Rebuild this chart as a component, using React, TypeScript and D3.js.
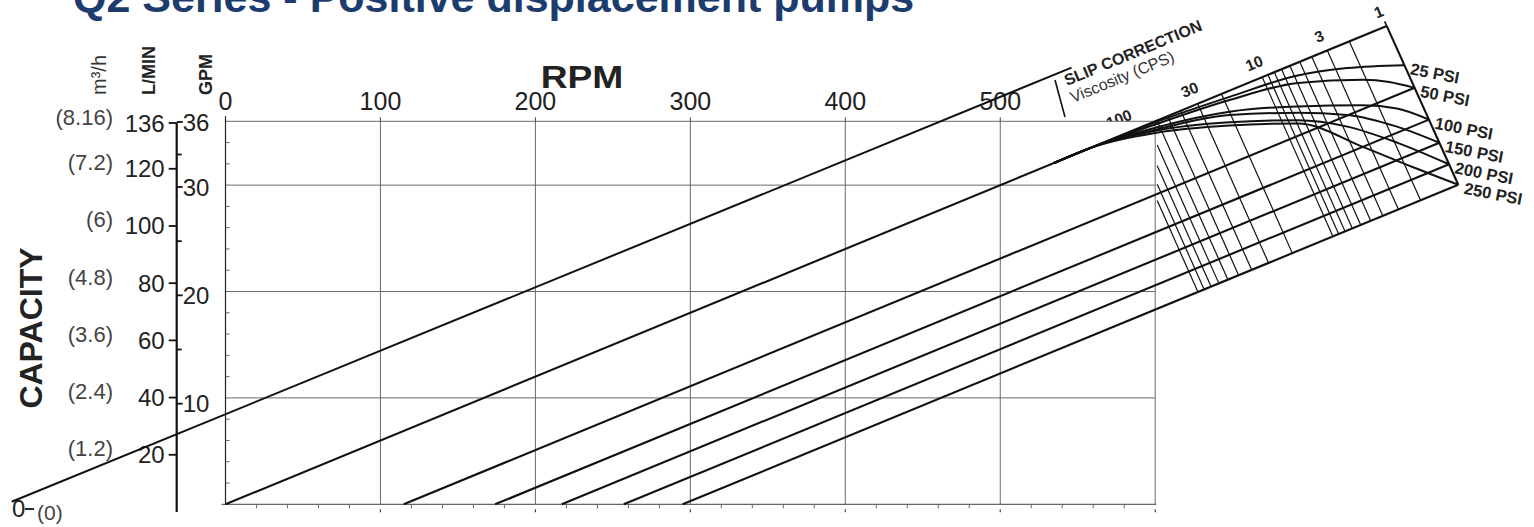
import React from "react";
import * as d3 from "d3";

const WIDTH = 1534;
const HEIGHT = 527;

// ---- axis data ----
const rpmLabels = [0, 100, 200, 300, 400, 500];
const rpmGridLines = [100, 200, 300, 400, 500, 600];
const rpmMinorTicks = [20, 40, 60, 80, 120, 140, 160, 180, 220, 240, 260, 280, 320, 340, 360, 380, 420, 440, 460, 480, 520, 540, 560, 580];
const gpmGridLines = [10, 20, 30, 36];
const gpmMinorTicks = [2, 4, 6, 8, 12, 14, 16, 18, 22, 24, 26, 28, 32, 34];
const lpmTicks = [20, 40, 60, 80, 100, 120, 136];
const m3hLabels = ["(1.2)", "(2.4)", "(3.6)", "(4.8)", "(6)", "(7.2)", "(8.16)"];
const gpmAxisTicks = [10, 20, 30, 36];
const gpmAxisMinor = [15, 25, 33];

// ---- capacity lines (GPM = gpmPerRev * (RPM - zeroFlowRpm)) ----
const gpmPerRev = 0.06;
const lineZeroFlowRpm = [0, 115, 174, 217, 257, 295];
const guideZeroFlowRpm = -138;
const guideEndRpm = 546;

// ---- slip correction curves ----
const pressureLabels = ["25 PSI", "50 PSI", "100 PSI", "150 PSI", "200 PSI", "250 PSI"];
const curveEndZeroFlowRpm = [73, 115, 174, 217, 257, 295];
const curveStart: [number, number][] = [[534.7, 32.08], [560, 33.6]];
const curvePoints: [number, number][][] = [
  [[600, 35.9], [648, 38.3], [692, 40.3], [724, 41.0]],
  [[600, 35.7], [648, 38.0], [692, 39.6], [734, 39.9], [751, 39.7]],
  [[600, 35.4], [648, 36.9], [692, 37.4], [734, 37.5], [756, 37.2]],
  [[600, 35.2], [648, 36.6], [692, 36.8], [724, 36.6], [756, 35.5]],
  [[600, 35.1], [648, 35.9], [692, 36.1], [724, 35.5], [756, 34.0]],
  [[600, 34.9], [648, 35.6], [692, 35.8], [734, 33.6], [766, 31.7]],
];

// ---- viscosity (CPS) scale ----
const viscosities = [1, 2, 3, 4, 5, 6, 7, 8, 9, 10, 20, 30, 40, 50, 60, 70, 80, 90, 100];
const viscosityLabels = [1, 3, 10, 30, 100];
const viscosityDecades = [1, 10, 100];

const x = d3.scaleLinear().domain([0, 600]).range([225.5, 1155.2]);
const y = d3.scaleLinear().domain([0, 36]).range([504.3, 121.3]);
const yL = d3.scaleLinear().domain([0, 136]).range([512, 123]);
const yG = d3.scaleLinear().domain([0, 36]).range([512, 122]);
// viscosity positions, expressed in RPM units along the top / bottom capacity lines
const viscTop = d3.scaleLog().domain(viscosityDecades).range([749.4, 669.1, 581.8]);
const viscBottom = d3.scaleLog().domain(viscosityDecades).range([795.6, 714.7, 627.6]);

const AXIS_X = 176.7;
const FONT = "'Liberation Sans', Arial, Helvetica, sans-serif";
const ANGLE = (-Math.atan((gpmPerRev * (y(0) - y(1))) / (x(1) - x(0))) * 180) / Math.PI;

const flow = (rpm: number, r0: number) => gpmPerRev * (rpm - r0);
const lastZero = lineZeroFlowRpm[lineZeroFlowRpm.length - 1];
const topPt = (v: number): [number, number] => {
  const r = viscTop(v);
  return [x(r), y(flow(r, 0))];
};
const botPt = (v: number): [number, number] => {
  const r = viscBottom(v);
  return [x(r), y(flow(r, lastZero))];
};
const diagPt = (r0: number): [number, number] => {
  const t = r0 / lastZero;
  const a = topPt(1), b = botPt(1);
  return [a[0] + t * (b[0] - a[0]), a[1] + t * (b[1] - a[1])];
};

export default function App() {
  const lineGen = d3.line<[number, number]>().curve(d3.curveMonotoneX);
  const clipX = x(600) + 2;

  const viscSegs = viscosities.map((v) => {
    let a = topPt(v);
    const b = botPt(v);
    if (a[0] < clipX) {
      const t = (clipX - a[0]) / (b[0] - a[0]);
      a = [clipX, a[1] + t * (b[1] - a[1])];
    }
    return { v, a, b };
  });

  const INK = "#111";

  return (
    <svg
      width={WIDTH}
      height={HEIGHT}
      style={{ position: "absolute", left: 0, top: 0, display: "block", background: "#fff" }}
      fontFamily={FONT}
    >
      {/* title (cut at top) */}
      <text x={73} y={12} fontSize={43} fontWeight="bold" fill="#1d3c6e">
        Q2 Series - Positive displacement pumps
      </text>

      {/* unit labels */}
      <text transform="translate(106,95) rotate(-90)" fontSize={20} fill="#333">
        m³/h
      </text>
      <text transform="translate(155,95) rotate(-90)" fontSize={18} fontWeight="bold" fill="#222">
        L/MIN
      </text>
      <text transform="translate(212,95) rotate(-90)" fontSize={18} fontWeight="bold" fill="#222">
        GPM
      </text>
      <text transform="translate(42,328) rotate(-90)" fontSize={32} fontWeight="bold" fill="#222" textAnchor="middle">
        CAPACITY
      </text>

      {/* RPM header */}
      <text transform="translate(582,88) scale(1.2,1)" fontSize={31} fontWeight="bold" fill="#222" textAnchor="middle">
        RPM
      </text>
      {rpmLabels.map((r) => (
        <text key={"rl" + r} x={x(r)} y={110} fontSize={25} fill="#222" textAnchor="middle">
          {r}
        </text>
      ))}

      {/* viscosity labels (the 100 is partly hidden under the plot) */}
      {viscosityLabels.map((v) => {
        const p = topPt(v);
        const cx = p[0] - 6, cy = p[1] - 9;
        return (
          <text
            key={"vl" + v}
            transform={`translate(${cx},${cy}) rotate(${ANGLE})`}
            fontSize={15.5}
            fontWeight="bold"
            fill="#222"
            textAnchor="middle"
          >
            {v}
          </text>
        );
      })}

      {/* plot background */}
      <rect x={x(0)} y={y(36)} width={x(600) - x(0)} height={y(0) - y(36)} fill="#fff" />

      {/* grid */}
      {gpmGridLines.map((g) => (
        <line key={"gh" + g} x1={x(0)} x2={x(600)} y1={y(g)} y2={y(g)} stroke="#6a6a6a" strokeWidth={1} />
      ))}
      {rpmGridLines.map((r) => (
        <line key={"gv" + r} x1={x(r)} x2={x(r)} y1={y(36)} y2={y(0)} stroke="#6a6a6a" strokeWidth={1} />
      ))}
      {rpmLabels.map((r) => (
        <line key={"tt" + r} x1={x(r)} x2={x(r)} y1={y(36) - 4} y2={y(36)} stroke="#444" strokeWidth={1} />
      ))}
      <line x1={x(0) - 4} x2={x(600) + 1} y1={y(0)} y2={y(0)} stroke="#666" strokeWidth={1.2} />
      <line x1={x(0)} x2={x(0)} y1={y(36) - 5} y2={y(0)} stroke="#222" strokeWidth={1.2} />
      {rpmMinorTicks.map((r) => (
        <line key={"mt" + r} x1={x(r)} x2={x(r)} y1={y(0)} y2={y(0) + 4} stroke="#666" strokeWidth={1} />
      ))}
      {rpmGridLines.map((r) => (
        <line key={"bt" + r} x1={x(r)} x2={x(r)} y1={y(0) + 5} y2={y(0) + 8} stroke="#444" strokeWidth={1.2} />
      ))}
      {gpmMinorTicks.map((g) => (
        <line key={"gm" + g} x1={x(0)} x2={x(0) + 4} y1={y(g)} y2={y(g)} stroke="#666" strokeWidth={1} />
      ))}

      {/* left combined axis */}
      <line x1={AXIS_X} x2={AXIS_X} y1={yL(136)} y2={yL(0)} stroke={INK} strokeWidth={2.2} />
      {lpmTicks.map((l, i) => (
        <g key={"lp" + l}>
          <line x1={AXIS_X - 8} x2={AXIS_X} y1={yL(l)} y2={yL(l)} stroke={INK} strokeWidth={1.8} />
          <text x={AXIS_X - 12} y={yL(l) + 8.5} fontSize={24} fill="#222" textAnchor="end">
            {l}
          </text>
          <text x={113} y={yL(l) + 1.5} fontSize={22} fill="#444" textAnchor="end">
            {m3hLabels[i]}
          </text>
        </g>
      ))}
      {gpmAxisTicks.map((g) => (
        <g key={"ga" + g}>
          <line x1={AXIS_X} x2={AXIS_X + 6} y1={yG(g)} y2={yG(g)} stroke={INK} strokeWidth={1.8} />
          <text x={AXIS_X + 6} y={yG(g) + 8.5} fontSize={24} fill="#222">
            {g}
          </text>
        </g>
      ))}
      {gpmAxisMinor.map((g) => (
        <line key={"gam" + g} x1={AXIS_X} x2={AXIS_X + 5} y1={yG(g)} y2={yG(g)} stroke={INK} strokeWidth={1.8} />
      ))}
      {/* zero label */}
      <text x={12} y={517} fontSize={24} fill="#222">0</text>
      <line x1={25} x2={34} y1={509} y2={509} stroke={INK} strokeWidth={1.8} />
      <text x={37} y={520} fontSize={21} fill="#444">(0)</text>

      {/* viscosity lines */}
      {viscSegs.map((s) => (
        <line
          key={"vs" + s.v}
          x1={s.a[0]}
          y1={s.a[1]}
          x2={s.b[0]}
          y2={s.b[1]}
          stroke={INK}
          strokeWidth={s.v === 1 ? 2.1 : 1.2}
        />
      ))}
      {/* apex tick */}
      {(() => {
        const a = topPt(1), b = botPt(1);
        const dx = b[0] - a[0], dy = b[1] - a[1];
        const L = Math.hypot(dx, dy);
        return <line x1={a[0]} y1={a[1]} x2={a[0] - (dx / L) * 5} y2={a[1] - (dy / L) * 5} stroke={INK} strokeWidth={1.6} />;
      })()}

      {/* guide line */}
      <line
        x1={x(guideZeroFlowRpm)}
        y1={y(0) - 2.5}
        x2={x(guideEndRpm)}
        y2={y(flow(guideEndRpm, guideZeroFlowRpm))}
        stroke={INK}
        strokeWidth={2}
      />

      {/* capacity lines */}
      {lineZeroFlowRpm.map((r0) => {
        const end = diagPt(r0);
        return <line key={"cl" + r0} x1={x(r0)} y1={y(0)} x2={end[0]} y2={end[1]} stroke={INK} strokeWidth={2.1} />;
      })}

      {/* slip curves */}
      {curvePoints.map((pts, i) => {
        const end = diagPt(curveEndZeroFlowRpm[i]);
        const all: [number, number][] = [
          ...curveStart.map((p) => [x(p[0]), y(p[1])] as [number, number]),
          ...pts.map((p) => [x(p[0]), y(p[1])] as [number, number]),
          end,
        ];
        return <path key={"cv" + i} d={lineGen(all) || ""} fill="none" stroke={INK} strokeWidth={2} />;
      })}

      {/* pressure labels */}
      {pressureLabels.map((lab, i) => {
        const p = diagPt(curveEndZeroFlowRpm[i]);
        return (
          <text
            key={"pl" + lab}
            transform={`translate(${p[0] + 5},${p[1] + 9}) rotate(11)`}
            fontSize={16.5}
            fontWeight="bold"
            fill="#222"
          >
            {lab}
          </text>
        );
      })}

      {/* slip correction caption */}
      <line x1={1055} y1={80} x2={1065} y2={117} stroke={INK} strokeWidth={1.6} />
      <text transform={`translate(1067,86) rotate(${ANGLE})`} fontSize={16} fontWeight="bold" fill="#222">
        SLIP CORRECTION
      </text>
      <text transform={`translate(1073,103) rotate(${ANGLE})`} fontSize={16} fill="#333">
        Viscosity (CPS)
      </text>
    </svg>
  );
}
